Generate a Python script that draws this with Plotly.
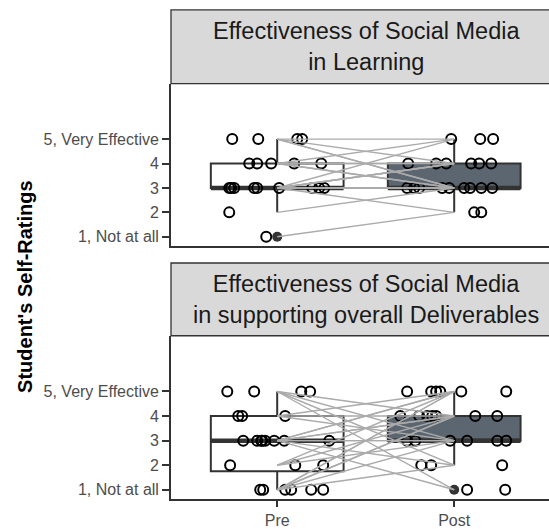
import plotly.graph_objects as go

# ---------------- data ----------------
categories = ["Pre", "Post"]
panel_titles = [
    "Effectiveness of Social Media<br>in Learning",
    "Effectiveness of Social Media<br>in supporting overall Deliverables",
]
y_tick_vals = [1, 2, 3, 4, 5]
y_tick_text = ["1, Not at all", "2", "3", "4", "5, Very Effective"]
y_title = "Student's Self-Ratings"

# Panel 1 : Learning  (ratings + horizontal jitter)
p1_pre_vals = [5, 5, 5, 5, 4, 4, 4, 4, 4, 3, 3, 3, 3, 3, 3, 3, 3, 3, 2, 1]
p1_pre_jit = [-0.254, -0.107, 0.113, 0.141, -0.158, -0.113, -0.034, 0.096, 0.249,
              -0.271, -0.243, -0.130, -0.113, 0.011, 0.198, 0.237, 0.266, -0.260,
              -0.271, -0.062]
p1_post_vals = [5, 5, 5, 4, 4, 4, 4, 4, 4, 3, 3, 3, 3, 3, 3, 3, 3, 3, 2, 2]
p1_post_jit = [-0.017, 0.147, 0.220, -0.260, -0.102, -0.045, 0.096, 0.141, 0.209,
               -0.266, -0.226, -0.198, -0.068, -0.028, 0.056, 0.090, 0.153, 0.215,
               0.113, 0.153]
# paired ratings (Pre -> Post) for the connecting lines
p1_pair_pre = [5, 5, 5, 5, 4, 4, 4, 4, 4, 3, 3, 3, 3, 3, 3, 3, 3, 3, 2, 1]
p1_pair_post = [5, 4, 3, 3, 5, 4, 3, 3, 4, 5, 4, 4, 3, 3, 3, 4, 3, 2, 3, 2]

# Panel 2 : Deliverables
p2_pre_vals = [5, 5, 5, 5, 4, 4, 4, 3, 3, 3, 3, 3, 3, 3, 3, 2, 2, 2, 1, 1, 1, 1, 1, 1]
p2_pre_jit = [-0.282, -0.130, 0.136, 0.186, -0.220, -0.198, 0.045,
              -0.192, -0.113, -0.090, -0.068, -0.017, 0.040, 0.294, -0.085,
              -0.266, 0.102, 0.260, -0.096, -0.079, 0.045, 0.079, 0.192, 0.260]
p2_post_vals = [5, 5, 5, 5, 5, 5, 4, 4, 4, 4, 4, 4, 4, 3, 3, 3, 3, 3, 3, 2, 2, 2, 1, 1]
p2_post_jit = [-0.266, -0.130, -0.102, -0.079, 0.040, 0.294,
               -0.305, -0.198, -0.153, -0.124, -0.102, 0.119, 0.243,
               -0.266, -0.220, -0.023, 0.073, 0.243, 0.294,
               -0.186, -0.130, 0.271, 0.073, 0.288]
p2_pair_pre = [5, 5, 5, 5, 4, 4, 4, 3, 3, 3, 3, 3, 3, 3, 3, 2, 2, 2, 1, 1, 1, 1, 1, 1]
p2_pair_post = [1, 3, 4, 2, 5, 3, 4, 5, 4, 3, 3, 4, 2, 5, 1, 4, 3, 5, 5, 4, 3, 4, 2, 5]

# box statistics: [Pre, Post]
p1_q1 = [3, 3]; p1_med = [3, 3]; p1_q3 = [4, 4]; p1_lo = [2, 2]; p1_hi = [5, 5]
p1_outliers = [[1], []]
p2_q1 = [1.75, 3]; p2_med = [3, 3]; p2_q3 = [4, 4]; p2_lo = [1, 2]; p2_hi = [5, 5]
p2_outliers = [[], [1]]

# ---------------- styling ----------------
W, H = 549, 529
BOX_FILL = ["#FFFFFF", "#5B6670"]
DARK = "#333333"
FONT = "Liberation Sans, Arial, sans-serif"
BOX_W = 0.75
x_pos = [1, 2]

# pixel layout
x_left_px = 171
panels_px = [(84, 247), (337, 501)]
strips_px = [(10, 84), (264, 337)]
px_per_unit = 177.0
x_range = [0.4, 0.4 + (W - x_left_px) / px_per_unit]
y_range = [0.62, 7.27]


def py(p):
    return 1 - p / H


fig = go.Figure()

panels = [
    dict(pre_v=p1_pre_vals, pre_j=p1_pre_jit, post_v=p1_post_vals, post_j=p1_post_jit,
         pa=p1_pair_pre, pb=p1_pair_post, q1=p1_q1, med=p1_med, q3=p1_q3, lo=p1_lo, hi=p1_hi,
         out=p1_outliers),
    dict(pre_v=p2_pre_vals, pre_j=p2_pre_jit, post_v=p2_post_vals, post_j=p2_post_jit,
         pa=p2_pair_pre, pb=p2_pair_post, q1=p2_q1, med=p2_med, q3=p2_q3, lo=p2_lo, hi=p2_hi,
         out=p2_outliers),
]

for i, pdat in enumerate(panels):
    xa = "x" if i == 0 else "x2"
    ya = "y" if i == 0 else "y2"
    for g in range(2):
        fig.add_trace(go.Box(
            x=[x_pos[g]], q1=[pdat["q1"][g]], median=[pdat["med"][g]], q3=[pdat["q3"][g]],
            lowerfence=[pdat["lo"][g]], upperfence=[pdat["hi"][g]],
            width=BOX_W, whiskerwidth=0, fillcolor=BOX_FILL[g],
            line=dict(color=DARK, width=2), boxpoints=False,
            xaxis=xa, yaxis=ya, hoverinfo="skip"))
        # thicker median line
        fig.add_trace(go.Scatter(
            x=[x_pos[g] - BOX_W / 2, x_pos[g] + BOX_W / 2],
            y=[pdat["med"][g]] * 2, mode="lines",
            line=dict(color=DARK, width=4.5), xaxis=xa, yaxis=ya, hoverinfo="skip"))
        if pdat["out"][g]:
            fig.add_trace(go.Scatter(
                x=[x_pos[g]] * len(pdat["out"][g]), y=pdat["out"][g], mode="markers",
                marker=dict(color=DARK, size=10), xaxis=xa, yaxis=ya, hoverinfo="skip"))
    # jittered points
    for g, (vals, jit) in enumerate([(pdat["pre_v"], pdat["pre_j"]),
                                     (pdat["post_v"], pdat["post_j"])]):
        fig.add_trace(go.Scatter(
            x=[x_pos[g] + j for j in jit], y=vals, mode="markers",
            marker=dict(symbol="circle-open", color="black", size=10,
                        line=dict(width=2, color="black")),
            xaxis=xa, yaxis=ya, hoverinfo="skip"))
    # paired lines
    lx, ly = [], []
    for a, b in zip(pdat["pa"], pdat["pb"]):
        lx += [x_pos[0], x_pos[1], None]
        ly += [a, b, None]
    fig.add_trace(go.Scatter(
        x=lx, y=ly, mode="lines", line=dict(color="#ABABAB", width=1.4),
        xaxis=xa, yaxis=ya, hoverinfo="skip"))

x_dom = [x_left_px / W, 1]
axis_common = dict(showgrid=False, zeroline=False, showline=True, linecolor=DARK,
                   linewidth=1.8, mirror=False)
fig.update_layout(
    width=W, height=H, margin=dict(l=0, r=0, t=0, b=0),
    paper_bgcolor="white", plot_bgcolor="white", showlegend=False,
    font=dict(family=FONT),
    xaxis=dict(domain=x_dom, anchor="y", range=x_range, showticklabels=False,
               ticks="", **axis_common),
    yaxis=dict(domain=[py(panels_px[0][1]), py(panels_px[0][0])], anchor="x",
               range=y_range, tickvals=y_tick_vals, ticktext=y_tick_text,
               ticks="outside", ticklen=7, tickwidth=2, tickcolor=DARK,
               tickfont=dict(size=16, color="#4D4D4D", family=FONT), **axis_common),
    xaxis2=dict(domain=x_dom, anchor="y2", range=x_range, tickvals=x_pos,
                ticktext=categories, ticks="outside", ticklen=6, tickwidth=2,
                tickcolor=DARK, tickfont=dict(size=16, color="#4D4D4D", family=FONT),
                **axis_common),
    yaxis2=dict(domain=[py(panels_px[1][1]), py(panels_px[1][0])], anchor="x2",
                range=y_range, tickvals=y_tick_vals, ticktext=y_tick_text,
                ticks="outside", ticklen=7, tickwidth=2, tickcolor=DARK,
                tickfont=dict(size=16, color="#4D4D4D", family=FONT), **axis_common),
)

shapes = []
annotations = []
for i, (t, b) in enumerate(strips_px):
    shapes.append(dict(type="rect", xref="paper", yref="paper",
                       x0=x_left_px / W, x1=1.01, y0=py(b), y1=py(t),
                       fillcolor="#D9D9D9", line=dict(color=DARK, width=1.3)))
    annotations.append(dict(text=panel_titles[i], xref="paper", yref="paper",
                            x=366 / W, y=py((t + b) / 2), xanchor="center", yanchor="middle",
                            showarrow=False,
                            font=dict(size=23.5, color="#1A1A1A", family=FONT)))
annotations.append(dict(text="<b>" + y_title + "</b>", xref="paper", yref="paper",
                        x=25 / W, y=py(288), xanchor="center", yanchor="middle",
                        textangle=-90, showarrow=False,
                        font=dict(size=20, color="black", family=FONT)))
fig.update_layout(shapes=shapes, annotations=annotations)

fig.write_html(
    "out.html",
    config={"displayModeBar": False},
    post_script="document.body.style.margin='0';document.body.style.overflow='hidden';",
)
